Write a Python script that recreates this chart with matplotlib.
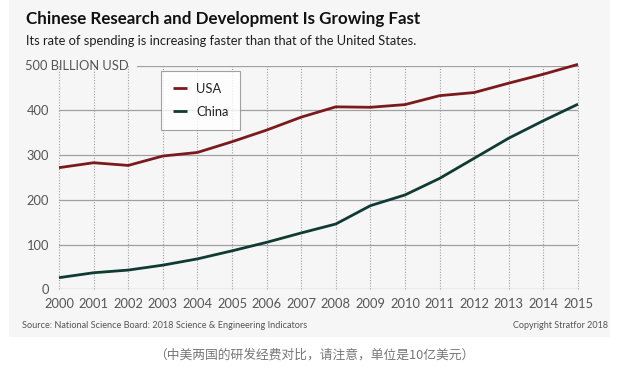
import matplotlib
matplotlib.use("Agg")
import matplotlib.pyplot as plt
from matplotlib.patches import Rectangle

years = list(range(2000, 2016))
usa = [272, 283, 277, 298, 306, 330, 356, 385, 408, 407, 413, 433, 440, 461, 481, 503]
china = [26, 37, 43, 54, 68, 86, 105, 126, 146, 187, 211, 248, 293, 338, 377, 414]
y_ticks = [0, 100, 200, 300, 400]
y_top = 500

USA_C = "#7b1a1c"
CHINA_C = "#0f3b32"
GRID_C = "#a0a0a0"
TXT_C = "#555555"
FONT = "Lato"

plt.rcParams["font.family"] = [FONT, "DejaVu Sans"]

W, H = 620, 377
fig = plt.figure(figsize=(W / 100, H / 100), dpi=100)
fig.patches.append(Rectangle((9 / W, 1 - 337 / H), (610 - 9) / W, 337 / H,
                             transform=fig.transFigure, facecolor="#f6f6f6",
                             edgecolor="none", zorder=-10))

ax = fig.add_axes([59 / W, 1 - 289.3 / H, 519 / W, 223.6 / H])
ax.set_facecolor("none")
ax.set_xlim(2000, 2015)
ax.set_ylim(0, y_top)
for s in ax.spines.values():
    s.set_visible(False)

for yv in y_ticks:
    ax.axhline(yv, color=GRID_C, lw=0.9, zorder=1)
ax.plot([2002.25, 2015], [y_top, y_top], color=GRID_C, lw=0.9, zorder=1)
for x in years:
    ax.plot([x, x], [0, y_top + 4], color=GRID_C, lw=0.8, ls=(0, (1, 1.5)), zorder=1,
            clip_on=False)

ax.plot(years, usa, color=USA_C, lw=2.0, label="USA", zorder=3, clip_on=False,
        solid_capstyle="butt")
ax.plot(years, china, color=CHINA_C, lw=2.0, label="China", zorder=3, clip_on=False,
        solid_capstyle="butt")

ax.set_xticks(years)
ax.set_xticklabels([str(y) for y in years])
ax.set_yticks(y_ticks)
ax.tick_params(length=0, labelsize=10.5, colors=TXT_C)
ax.tick_params(axis="x", pad=6)
ax.tick_params(axis="y", pad=7)
ylab = ax.text(25 / W, 1 - 66 / H, "500 BILLION USD", transform=fig.transFigure,
               ha="left", va="center", fontsize=10.5, color=TXT_C)

leg = ax.legend(loc="upper left", bbox_to_anchor=((161 - 59) / 519, (289.3 - 71) / 223.6),
                frameon=True, fancybox=False, fontsize=10.5, handlelength=1.0,
                handletextpad=0.6, borderpad=0.8, labelspacing=0.75, borderaxespad=0)
leg.get_frame().set_edgecolor("#8a8a8a")
leg.get_frame().set_linewidth(0.8)
leg.get_frame().set_facecolor("white")
for t in leg.get_texts():
    t.set_color("#222222")

title = fig.text(26 / W, 1 - 19 / H, "Chinese Research and Development Is Growing Fast",
                 fontsize=13.5, fontweight="bold", color="#111111", va="center")
sub = fig.text(26 / W, 1 - 41 / H,
               "Its rate of spending is increasing faster than that of the United States.",
               fontsize=10.5, color="#1e1e1e", va="center")
src = fig.text(22 / W, 1 - 325 / H,
               "Source: National Science Board: 2018 Science & Engineering Indicators",
               fontsize=6.8, color=TXT_C, va="center")
cpy = fig.text(608 / W, 1 - 325 / H, "Copyright Stratfor 2018",
               fontsize=6.8, color=TXT_C, va="center", ha="right")
cap = fig.text(314 / W, 1 - 355 / H, "（中美两国的研发经费对比，请注意，单位是10亿美元）",
               fontsize=8.5, color="#777777", va="center", ha="center",
               family=["Noto Sans CJK SC", "DejaVu Sans"])

# scale text sizes so widths match the reference
renderer = fig.canvas.get_renderer()


def fit(txt, width_px):
    w = txt.get_window_extent(renderer).width
    txt.set_fontsize(txt.get_fontsize() * width_px / w)


fit(title, 394)
fit(sub, 395)
fit(ylab, 105)
fit(src, 284)
fit(cpy, 96)
fit(cap, 320)

xt = ax.get_xticklabels()[0]
scale = 30 / xt.get_window_extent(renderer).width
tick_size = 10.5 * scale
ax.tick_params(labelsize=tick_size)
for t in leg.get_texts():
    t.set_fontsize(ylab.get_fontsize())

fig.savefig("out.png", dpi=100)
